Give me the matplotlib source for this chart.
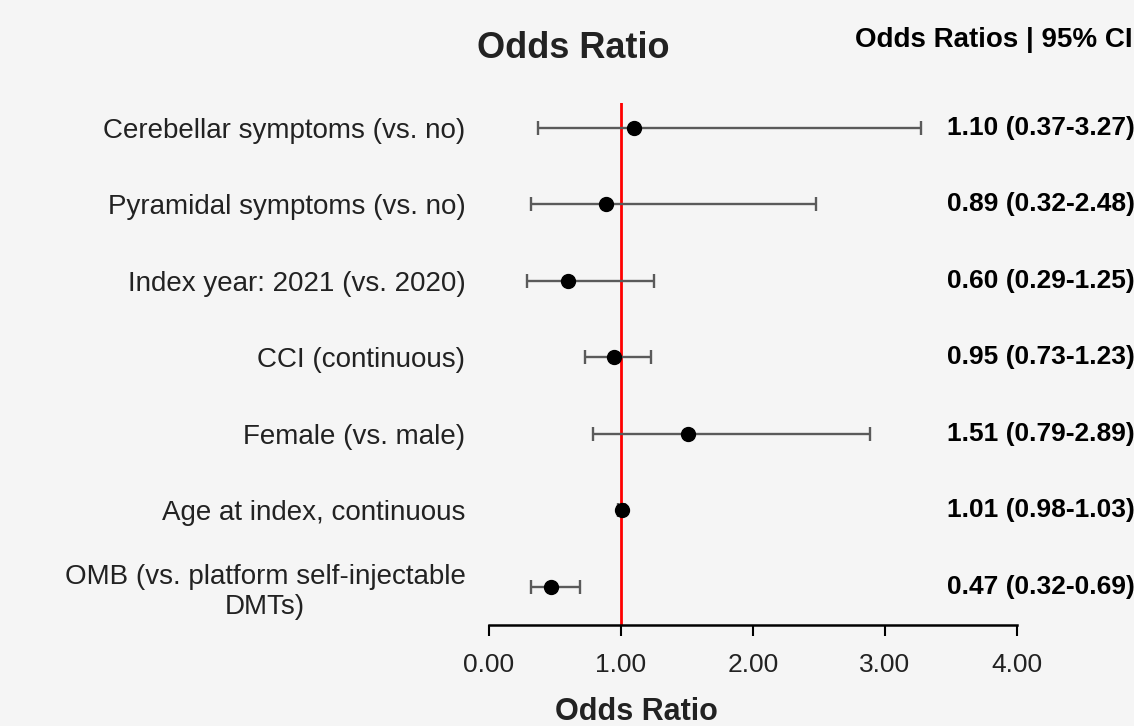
import matplotlib
matplotlib.use("Agg")
import matplotlib.pyplot as plt

# data
labels = ["Cerebellar symptoms (vs. no)",
          "Pyramidal symptoms (vs. no)",
          "Index year: 2021 (vs. 2020)",
          "CCI (continuous)",
          "Female (vs. male)",
          "Age at index, continuous",
          "OMB (vs. platform self-injectable\nDMTs)"]
odds = [1.10, 0.89, 0.60, 0.95, 1.51, 1.01, 0.47]
lower = [0.37, 0.32, 0.29, 0.73, 0.79, 0.98, 0.32]
upper = [3.27, 2.48, 1.25, 1.23, 2.89, 1.03, 0.69]
xticks = [0, 1, 2, 3, 4]

font = "Liberation Sans"
bg = "#f5f5f5"

fig = plt.figure(figsize=(11.34, 7.26), dpi=100, facecolor=bg)
ax = fig.add_axes([489/1134, 1-625/726, (1017-489)/1134, (625-103)/726])
ax.set_facecolor(bg)

y = list(range(len(labels)))
err = [[o - l for o, l in zip(odds, lower)], [u - o for o, u in zip(odds, upper)]]

# reference line at OR = 1
ax.axvline(1, color="red", lw=2, zorder=1)
ax.errorbar(odds, y, xerr=err, fmt="o", color="black", ms=10,
            ecolor="#5a5a5a", elinewidth=1.7, capsize=5, capthick=1.7, zorder=3)

ax.set_xlim(0, 4)
ax.set_ylim(6 + 38/76.5, -25/76.5)
ax.set_xticks(xticks)
ax.set_xticklabels([f"{v:.2f}" for v in xticks], family=font, fontsize=19, color="#222222")
ax.set_yticks(y)
ax.set_yticklabels(labels, family=font, fontsize=20, color="#222222")
for t in ax.get_yticklabels():
    t.set_multialignment("center")
ax.tick_params(axis="y", length=0, pad=17)
ax.tick_params(axis="x", length=8, width=1.5, direction="out", pad=12)
for s in ["top", "right", "left"]:
    ax.spines[s].set_visible(False)
ax.spines["bottom"].set_linewidth(1.8)

# right column with OR and CI
for yi, o, l, u in zip(y, odds, lower, upper):
    ax.text((947-489)/132, yi, f"{o:.2f} ({l:.2f}-{u:.2f})", ha="left", va="center",
            family=font, fontweight="bold", fontsize=19, color="black", clip_on=False)

fig.text(855/1134, 1-40/726, "Odds Ratios | 95% CI", ha="left", va="center",
         family=font, fontweight="bold", fontsize=20, color="black")
fig.text(573/1134, 1-48/726, "Odds Ratio", ha="center", va="center",
         family=font, fontweight="bold", fontsize=26, color="#222222")
fig.text(636/1134, 1-712/726, "Odds Ratio", ha="center", va="center",
         family=font, fontweight="bold", fontsize=22, color="#222222")

fig.savefig("out.png", dpi=100, facecolor=bg)
